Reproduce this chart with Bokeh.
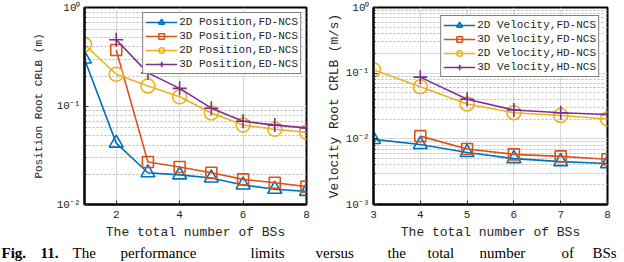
from bokeh.plotting import figure
from bokeh.layouts import column, row
from bokeh.models import FixedTicker, CustomJSTickFormatter, Range1d, ColumnDataSource
from bokeh.core.properties import value
from bokeh.embed import file_html
from bokeh.resources import INLINE

# ---------------- data ----------------
bs_pos = [1, 2, 3, 4, 5, 6, 7, 8]
bs_pos3d = [2, 3, 4, 5, 6, 7, 8]
pos2d_fd = [0.30, 0.042, 0.021, 0.020, 0.0186, 0.0158, 0.0143, 0.0136]
pos3d_fd = [0.37, 0.027, 0.024, 0.021, 0.018, 0.0166, 0.0152]
pos2d_ed = [0.42, 0.21, 0.16, 0.124, 0.085, 0.064, 0.058, 0.054]
pos3d_ed = [0.47, 0.217, 0.151, 0.095, 0.070, 0.064, 0.060]

bs_vel = [3, 4, 5, 6, 7, 8]
bs_vel3d = [4, 5, 6, 7, 8]
vel2d_fd = [0.0098, 0.0082, 0.0062, 0.0050, 0.0045, 0.0042]
vel3d_fd = [0.011, 0.0070, 0.0058, 0.0054, 0.0049]
vel2d_hd = [0.113, 0.062, 0.034, 0.025, 0.0227, 0.020]
vel3d_hd = [0.087, 0.040, 0.0275, 0.025, 0.0235]

pos_labels = ["2D Position,FD-NCS", "3D Position,FD-NCS", "2D Position,ED-NCS", "3D Position,ED-NCS"]
vel_labels = ["2D Velocity,FD-NCS", "3D Velocity,FD-NCS", "2D Velocity,HD-NCS", "3D Velocity,HD-NCS"]
x_label = "The total number of BSs"
pos_ylabel = "Position Root CRLB (m)"
vel_ylabel = "Velocity Root CRLB (m/s)"
pos_xticks = [2, 4, 6, 8]
vel_xticks = [3, 4, 5, 6, 7, 8]
caption_words = ["Fig.", "11.", "The", "performance", "limits", "versus", "the", "total", "number", "of", "BSs"]

COLORS = ["#0072BD", "#D95319", "#EDB120", "#7E2F8E"]
MARKERS = ["triangle", "square", "circle", "cross"]
SIZES = [14, 11, 14, 14]
FONT = "Liberation Mono"

fmt = CustomJSTickFormatter(code="""
const e = Math.round(Math.log10(tick));
const sup = {'-':'\u207b','0':'\u2070','1':'\u00b9','2':'\u00b2','3':'\u00b3'};
return '10' + String(e).split('').map(c => sup[c]).join('');
""")


def decades(lo, hi):
    major = [10.0 ** e for e in range(lo, hi + 1)]
    minor = [m * 10.0 ** e for e in range(lo, hi) for m in range(2, 10)]
    return major, minor


def make_fig(width, bl, br, xr, yr, xticks, dec, ylabel, ylabel_size, ylabel_standoff):
    p = figure(width=width, height=242, y_axis_type="log",
               x_range=Range1d(*xr), y_range=Range1d(*yr),
               output_backend="svg", toolbar_location=None,
               min_border_left=bl, min_border_right=br,
               min_border_top=7, min_border_bottom=37)
    major, minor = decades(*dec)
    p.xaxis.ticker = FixedTicker(ticks=xticks)
    p.yaxis.ticker = FixedTicker(ticks=major, minor_ticks=minor)
    p.yaxis.formatter = fmt
    for ax in (p.xaxis[0], p.yaxis[0]):
        ax.axis_line_color = "black"
        ax.axis_line_width = 2
        ax.major_tick_in = 4
        ax.major_tick_out = 0
        ax.minor_tick_in = 2
        ax.minor_tick_out = 0
        ax.major_tick_line_color = "#262626"
        ax.minor_tick_line_color = "#262626"
        ax.major_label_text_font = FONT
        ax.major_label_text_font_size = "11px"
        ax.major_label_text_color = "#262626"
        ax.axis_label_text_font = FONT
        ax.axis_label_text_font_style = "normal"
        ax.axis_label_text_color = "#262626"
    p.xaxis.major_label_standoff = 6
    p.yaxis.major_label_standoff = 4
    p.xaxis.axis_label = x_label
    p.xaxis.axis_label_text_font_size = "13px"
    p.xaxis.axis_label_standoff = 4
    p.yaxis.axis_label = ylabel
    p.yaxis.axis_label_text_font_size = ylabel_size
    p.yaxis.axis_label_standoff = ylabel_standoff
    p.outline_line_color = "black"
    p.outline_line_width = 2
    p.outline_line_alpha = 1
    p.xgrid.grid_line_color = "#d9d9d9"
    p.xgrid.grid_line_width = 1
    p.ygrid.grid_line_color = "#d9d9d9"
    p.ygrid.grid_line_width = 1
    p.ygrid.minor_grid_line_color = "#b8b8b8"
    p.ygrid.minor_grid_line_dash = "2 2"
    p.ygrid.minor_grid_line_width = 1
    return p


def add_series(p, xs, ys, i, label):
    src = ColumnDataSource(dict(x=xs, y=ys))
    p.line("x", "y", source=src, color=COLORS[i], line_width=1.6, legend_label=label)
    p.scatter("x", "y", source=src, marker=MARKERS[i], size=SIZES[i],
              line_color=COLORS[i], fill_color=None, line_width=1.6, legend_label=label)


def style_legend(p, margin):
    lg = p.legend[0]
    lg.location = "top_right"
    lg.margin = margin
    lg.padding = 2
    lg.spacing = 0
    lg.label_standoff = 2
    lg.glyph_width = 32
    lg.glyph_height = 14
    lg.label_height = 14
    lg.label_text_font = FONT
    lg.label_text_font_size = "11px"
    lg.label_text_color = "#262626"
    lg.border_line_color = "black"
    lg.border_line_width = 1.5
    lg.background_fill_alpha = 1


p1 = make_fig(312, 84, 6, (1, 8), (0.01, 1), pos_xticks, (-2, 0), pos_ylabel, "11px", 9)
add_series(p1, bs_pos, pos2d_fd, 0, pos_labels[0])
add_series(p1, bs_pos3d, pos3d_fd, 1, pos_labels[1])
add_series(p1, bs_pos, pos2d_ed, 2, pos_labels[2])
add_series(p1, bs_pos3d, pos3d_ed, 3, pos_labels[3])
style_legend(p1, 5)

p2 = make_fig(312, 61, 17, (3, 8), (0.001, 1), vel_xticks, (-3, 0), vel_ylabel, "12.8px", 1)
add_series(p2, bs_vel, vel2d_fd, 0, vel_labels[0])
add_series(p2, bs_vel3d, vel3d_fd, 1, vel_labels[1])
add_series(p2, bs_vel, vel2d_hd, 2, vel_labels[2])
add_series(p2, bs_vel3d, vel3d_hd, 3, vel_labels[3])
style_legend(p2, 8)

# caption strip
p3 = figure(width=624, height=20, x_range=Range1d(0, 624), y_range=Range1d(0, 20),
            output_backend="svg", toolbar_location=None,
            min_border=0, min_border_left=0, min_border_right=0,
            min_border_top=0, min_border_bottom=0)
p3.axis.visible = False
p3.grid.visible = False
p3.outline_line_color = None
word_x = [1, 40, 72, 120, 250, 315, 387, 427, 479, 561, 592]
bold_src = ColumnDataSource(dict(x=word_x[:2], y=[10] * 2, t=caption_words[:2]))
reg_src = ColumnDataSource(dict(x=word_x[2:], y=[10] * 9, t=caption_words[2:]))
p3.text("x", "y", text="t", source=bold_src, text_font=value("Liberation Serif"),
        text_font_size="15px", text_font_style="bold", text_baseline="middle",
        text_color="black")
p3.text("x", "y", text="t", source=reg_src, text_font=value("Liberation Serif"),
        text_font_size="15px", text_baseline="middle", text_color="black")

layout = column(row(p1, p2, spacing=0), p3, spacing=0)
open("out.html", "w").write(file_html(layout, INLINE))
